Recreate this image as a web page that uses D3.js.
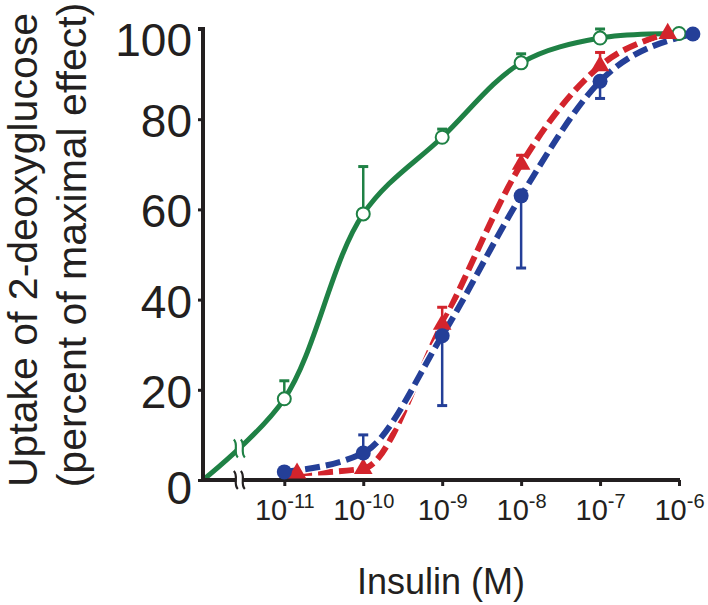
<!DOCTYPE html>
<html><head><meta charset="utf-8">
<script src="https://cdn.jsdelivr.net/npm/d3@7"></script>
<style>
body{margin:0;background:#fff;}
text{font-family:"Liberation Sans",Arial,sans-serif;fill:#231f20;}
</style>
</head><body>
<svg id="c" width="708" height="605"></svg>
<script>
// ---- data ----
const yTicks = [0, 20, 40, 60, 80, 100];
const xTickExps = [-11, -10, -9, -8, -7, -6];

// Control (open circles, solid green); dose 0 = no insulin (axis origin)
const greenDose = [0, 1e-11, 1e-10, 1e-9, 1e-8, 1e-7, 1e-6];
const greenVal  = [0, 18, 59, 76, 92.5, 98, 99];
const greenErr  = [0, 4, 10.5, 1.8, 2, 2, 0];

// Red triangles (dashed)
const redDose = [1.45e-11, 1e-10, 1e-9, 1e-8, 1e-7, 7.2e-7];
const redVal  = [1.5, 2.5, 34.5, 70, 91.8, 99];
const redErr  = [0, 0, 3.8, 2, 3, 0];

// Blue circles (dashed); negative error = bar drawn downward
const blueDose = [1e-11, 1e-10, 1e-9, 1e-8, 1e-7, 1.5e-6];
const blueVal  = [1.8, 6, 32, 63, 88.4, 98.9];
const blueErr  = [0, 4, -15.5, -16, -3.8, 0];

const yTitle1 = "Uptake of 2-deoxyglucose";
const yTitle2 = "(percent of maximal effect)";
const xTitle = "Insulin (M)";

// ---- layout ----
const GREEN = "#1f8145", RED = "#d3242c", BLUE = "#243f98", INK = "#231f20";
const svg = d3.select("#c");
const x = d3.scaleLog().domain([Math.pow(10, -12.03), 1e-6]).range([203, 679]);
const y = d3.scaleLinear().domain([0, 100]).range([480, 29]);
const px = d => d === 0 ? x.range()[0] : x(d);
const breakX = x(Math.pow(10, -11.57));

const zip = (ds, vs, es) => ds.map((d, i) => ({d, v: vs[i], e: es[i]}));
const green = zip(greenDose, greenVal, greenErr);
const red = zip(redDose, redVal, redErr);
const blue = zip(blueDose, blueVal, blueErr);

// curves
const line = d3.line().x(p => px(p.d)).y(p => y(p.v)).curve(d3.curveMonotoneX);
const smooth = d3.line().x(p => px(p.d)).y(p => y(p.v)).curve(d3.curveCatmullRom.alpha(0.5));
const greenPath = svg.append("path").attr("d", smooth(green)).attr("fill", "none")
  .attr("stroke", GREEN).attr("stroke-width", 5);
svg.append("path").attr("d", line(red)).attr("fill", "none")
  .attr("stroke", RED).attr("stroke-width", 6).attr("stroke-dasharray", "15,6");
svg.append("path").attr("d", line(blue)).attr("fill", "none")
  .attr("stroke", "#fff").attr("stroke-width", 9);
svg.append("path").attr("d", line(blue)).attr("fill", "none")
  .attr("stroke", BLUE).attr("stroke-width", 6).attr("stroke-dasharray", "15,6");

// axes
const labelShift = {100: 10, 0: 7};
const yAxis = d3.axisLeft(y).tickValues(yTicks).tickSize(5).tickPadding(6).tickFormat(d3.format("d"));
const gy = svg.append("g").attr("transform", `translate(${x.range()[0]},0)`).call(yAxis);
gy.select(".domain").attr("stroke", INK).attr("stroke-width", 4).attr("d", `M-5,${y(100)}H0V${y(0)+2}`);
gy.selectAll(".tick line").attr("stroke", INK).attr("stroke-width", 3);
gy.selectAll(".tick text").attr("font-size", 46).attr("fill", INK)
  .attr("font-family", '"Liberation Sans",Arial,sans-serif').attr("dy", "0.36em")
  .attr("y", d => labelShift[d] || 1);

const xAxis = d3.axisBottom(x).tickValues(xTickExps.map(e => Math.pow(10, e))).tickSize(6).tickFormat("");
const gx = svg.append("g").attr("transform", `translate(0,${y(0)})`).call(xAxis);
gx.select(".domain").attr("stroke", INK).attr("stroke-width", 4).attr("d", `M${x.range()[0]-2},0H${x.range()[1]+1}`);
gx.selectAll(".tick line").attr("stroke", INK).attr("stroke-width", 3);
gx.selectAll(".tick").each(function(d, i) {
  const t = d3.select(this).append("text").attr("y", 40).attr("text-anchor", "middle")
    .attr("fill", INK).attr("font-size", 29);
  t.append("tspan").text("10");
  t.append("tspan").text("-" + String(-xTickExps[i])).attr("font-size", 20).attr("dy", -12);
});

// axis breaks
function brk(cx, cy, ang, color, w) {
  const g = svg.append("g").attr("transform", `translate(${cx},${cy}) rotate(${ang})`);
  g.append("rect").attr("x", -3).attr("y", -9).attr("width", 6).attr("height", 18).attr("fill", "#fff");
  [-3.5, 3.5].forEach(o => g.append("path")
    .attr("d", `M${o-2},-9 C${o+3},-4 ${o-3},4 ${o+2},9`)
    .attr("fill", "none").attr("stroke", color).attr("stroke-width", w));
}
brk(breakX, y(0), 0, INK, 2.2);
// find green curve height at breakX
(function() {
  const node = greenPath.node(), L = node.getTotalLength();
  let lo = 0, hi = L;
  for (let k = 0; k < 40; k++) {
    const m = (lo + hi) / 2;
    if (node.getPointAtLength(m).x < breakX) lo = m; else hi = m;
  }
  brk(breakX, node.getPointAtLength(lo).y, 0, GREEN, 2.2);
})();

// error bars
function errs(data, color) {
  data.filter(p => p.e !== 0).forEach(p => {
    const cx = px(p.d), y0 = y(p.v), y1 = y(p.v + p.e);
    svg.append("line").attr("x1", cx).attr("x2", cx).attr("y1", y0).attr("y2", y1)
      .attr("stroke", color).attr("stroke-width", 2.5);
    svg.append("line").attr("x1", cx - 5).attr("x2", cx + 5).attr("y1", y1).attr("y2", y1)
      .attr("stroke", color).attr("stroke-width", 3);
  });
}
errs(green, GREEN); errs(red, RED); errs(blue, BLUE);

// markers
svg.selectAll(".gm").data(green.slice(1)).join("circle")
  .attr("cx", p => px(p.d)).attr("cy", p => y(p.v)).attr("r", 6.5)
  .attr("fill", "#fff").attr("stroke", GREEN).attr("stroke-width", 2);
const tri = d3.symbol().type(d3.symbolTriangle).size(150);
svg.selectAll(".rm").data(red).join("path")
  .attr("d", tri).attr("transform", p => `translate(${px(p.d)},${y(p.v)})`).attr("fill", RED);
svg.selectAll(".bm").data(blue).join("circle")
  .attr("cx", p => px(p.d)).attr("cy", p => y(p.v)).attr("r", 7.5).attr("fill", BLUE);

// titles
svg.append("text").attr("x", 441).attr("y", 594).attr("text-anchor", "middle")
  .attr("font-size", 36).text(xTitle);
svg.append("text").attr("transform", "translate(37,250) rotate(-90)").attr("text-anchor", "middle")
  .attr("font-size", 41).text(yTitle1);
svg.append("text").attr("transform", "translate(86,245) rotate(-90)").attr("text-anchor", "middle")
  .attr("font-size", 41).text(yTitle2);
</script>
</body></html>
